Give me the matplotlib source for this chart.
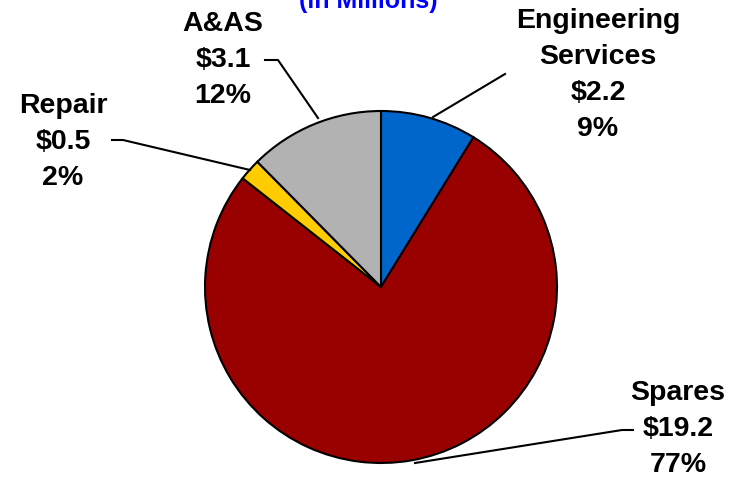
import matplotlib.pyplot as plt

# contract values, $M
categories = ['Engineering\nServices', 'Spares', 'Repair', 'A&AS']
values = [2.2, 19.2, 0.5, 3.1]
pcts = ['9%', '77%', '2%', '12%']
colors = ['#0066CC', '#990000', '#FFCC00', '#B2B2B2']

W, H = 747, 478
fig = plt.figure(figsize=(W / 100, H / 100), dpi=100)
ax = fig.add_axes([0, 0, 1, 1])

cx, cy, r = 381, H - 287, 176
ax.pie(values, colors=colors, startangle=90, counterclock=False,
       center=(cx, cy), radius=r,
       wedgeprops=dict(edgecolor='black', linewidth=1.5))
ax.set_xlim(0, W)
ax.set_ylim(0, H)
ax.set_aspect('equal')
ax.axis('off')

font = dict(family='Liberation Sans', weight='bold', fontsize=20.5,
            ha='center', va='center', linespacing=1.5)

# label position (pixels from top-left), leader line points
label_pos = [(598, 75), (678, 429), (63, 142), (223, 60)]
leaders = [
    [(505, 74), (433, 117)],
    [(633, 430), (622, 430), (415, 463)],
    [(112, 140), (123, 140), (250, 170)],
    [(265, 60), (278, 60), (318, 118)],
]

for cat, v, p, (lx, ly), pts in zip(categories, values, pcts, label_pos, leaders):
    ax.text(lx, H - ly, f'{cat}\n${v}\n{p}', **font)
    xs = [q[0] for q in pts]
    ys = [H - q[1] for q in pts]
    ax.plot(xs, ys, color='black', linewidth=1.5)

ax.text(368, H - 1, '(in Millions)', color='#0000FF', family='Liberation Sans',
        weight='bold', fontsize=18, ha='center', va='center')

plt.savefig('out.png', dpi=100)
